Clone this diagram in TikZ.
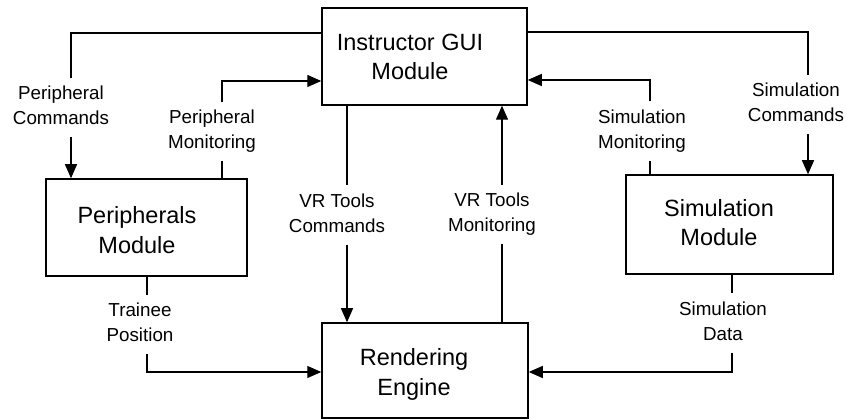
\documentclass[tikz,border=0pt]{standalone}
\usepackage{fontspec}
\setmainfont{Liberation Sans}
\usetikzlibrary{arrows.meta}
\newcommand\pairtext[2]{\strut #1\\\strut #2}
\begin{document}
\begin{tikzpicture}[x=1pt,y=-1pt,
  module/.style={draw, line width=1.5pt, inner sep=0pt},
  modtext/.style={align=center, inner sep=0pt, font=\fontsize{23.5}{29.5}\selectfont},
  flowlabel/.style={align=center, inner sep=0pt, minimum height=59pt, font=\fontsize{18.8}{25}\selectfont},
  link/.style={line width=1.4pt},
  arr/.style={link, -{Triangle[length=14pt,width=12pt]}}
]
\clip (0,0) rectangle (847,419);

% modules
\node[module, minimum width=205pt, minimum height=97pt] (gui) at (424.5,56.5) {};
\node[module, minimum width=201pt, minimum height=97pt] (periph) at (146.5,227.5) {};
\node[module, minimum width=207pt, minimum height=99pt] (sim) at (729.5,224.5) {};
\node[module, minimum width=206pt, minimum height=95pt] (render) at (425,370.5) {};

\node[modtext] (gui-t) at (410,59) {\pairtext{Instructor GUI}{Module}};
\node[modtext] (periph-t) at (137,232.5) {\pairtext{Peripherals}{Module}};
\node[modtext] (sim-t) at (719,225) {\pairtext{Simulation}{Module}};
\node[modtext] (render-t) at (414,374.5) {\pairtext{Rendering}{Engine}};

% flow labels
\node[flowlabel] (pcmd) at (61,107.5) {\pairtext{Peripheral}{Commands}};
\node[flowlabel] (pmon) at (212,131.5) {\pairtext{Peripheral}{Monitoring}};
\node[flowlabel] (smon) at (642,131) {\pairtext{Simulation}{Monitoring}};
\node[flowlabel] (scmd) at (796,104.5) {\pairtext{Simulation}{Commands}};
\node[flowlabel] (vcmd) at (337,215) {\pairtext{VR Tools}{Commands}};
\node[flowlabel] (vmon) at (492,214.5) {\pairtext{VR Tools}{Monitoring}};
\node[flowlabel] (tpos) at (140,324.5) {\pairtext{Trainee}{Position}};
\node[flowlabel] (sdat) at (723,323) {\pairtext{Simulation}{Data}};

% bend points of the connectors
\coordinate (pc-b) at (71,33);
\coordinate (pm-b) at (222,81);
\coordinate (sm-b) at (650,80);
\coordinate (sc-b) at (808,32);
\coordinate (vc-x) at (347,0);
\coordinate (vm-x) at (502,0);
\coordinate (tp-b) at (147,372);
\coordinate (sd-b) at (732,372);

% Instructor GUI -> Peripherals
\draw[link] (gui.west |- pc-b) -- (pc-b) -- (pc-b |- pcmd.north);
\draw[arr] (pc-b |- pcmd.south) -- (pc-b |- periph.north);
% Peripherals -> Instructor GUI
\draw[link] (pm-b |- periph.north) -- (pm-b |- pmon.south);
\draw[arr] (pm-b |- pmon.north) -- (pm-b) -- (gui.west |- pm-b);
% Simulation -> Instructor GUI
\draw[link] (sm-b |- sim.north) -- (sm-b |- smon.south);
\draw[arr] (sm-b |- smon.north) -- (sm-b) -- (gui.east |- sm-b);
% Instructor GUI -> Simulation
\draw[link] (gui.east |- sc-b) -- (sc-b) -- (sc-b |- scmd.north);
\draw[arr] (sc-b |- scmd.south) -- (sc-b |- sim.north);
% Instructor GUI -> Rendering Engine
\draw[link] (vc-x |- gui.south) -- (vc-x |- vcmd.north);
\draw[arr] (vc-x |- vcmd.south) -- (vc-x |- render.north);
% Rendering Engine -> Instructor GUI
\draw[link] (vm-x |- render.north) -- (vm-x |- vmon.south);
\draw[arr] (vm-x |- vmon.north) -- (vm-x |- gui.south);
% Peripherals -> Rendering Engine
\draw[link] (tp-b |- periph.south) -- (tp-b |- tpos.north);
\draw[arr] (tp-b |- tpos.south) -- (tp-b) -- (render.west |- tp-b);
% Simulation -> Rendering Engine
\draw[link] (sd-b |- sim.south) -- (sd-b |- sdat.north);
\draw[arr] (sd-b |- sdat.south) -- (sd-b) -- (render.east |- sd-b);
\end{tikzpicture}
\end{document}
